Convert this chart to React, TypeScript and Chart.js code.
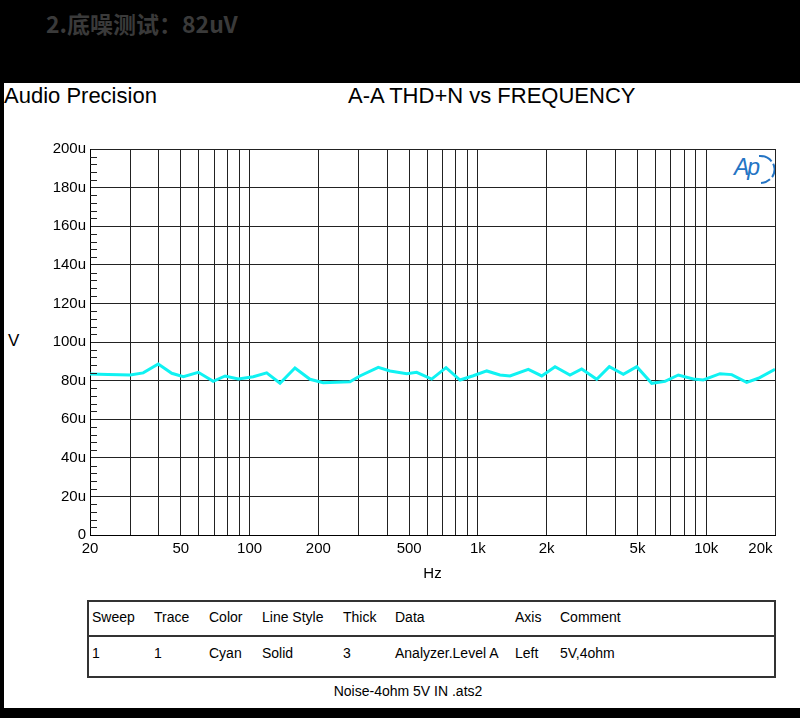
import React, { useEffect, useRef } from "react";
import { Chart, registerables } from "chart.js";

Chart.register(...registerables);

// ---- data ----
const frequenciesHz = [
  20, 24, 27, 30, 34.2, 39.8, 45.6, 51.3, 59.6, 69.3, 78.1, 89.2, 103.8, 118.8,
  135.9, 158, 183.9, 210, 240, 275, 304, 366, 412, 488, 539, 627, 725, 835, 954,
  1093, 1249, 1382, 1662, 1903, 2176, 2530, 2848, 3313, 3762, 4333, 4961, 5768,
  6596, 7545, 8777, 9705, 11486, 12926, 15034, 16908, 20000,
];
const levelUV = [
  83.4, 83.2, 83.0, 82.9, 84.0, 88.6, 83.8, 82.0, 84.3, 79.6, 82.4, 80.8, 82.0,
  84.0, 78.6, 86.5, 80.7, 78.9, 79.2, 79.4, 82.4, 86.9, 85.0, 83.6, 84.3, 80.8,
  86.7, 80.3, 82.5, 85.0, 82.9, 82.4, 85.8, 82.4, 87.2, 82.9, 86.0, 80.7, 87.2,
  83.3, 87.2, 78.6, 79.6, 82.9, 80.8, 80.3, 83.6, 83.1, 79.1, 81.2, 85.8,
];

const xGridValues = [
  20, 30, 40, 50, 60, 70, 80, 90, 100, 200, 300, 400, 500, 600, 700, 800, 900,
  1000, 2000, 3000, 4000, 5000, 6000, 7000, 8000, 9000, 10000, 20000,
];
const xLabelValues = [20, 50, 100, 200, 500, 1000, 2000, 5000, 10000, 20000];
const xLabelTexts = [
  "20", "50", "100", "200", "500", "1k", "2k", "5k", "10k",
  "20k\u00a0\u00a0\u00a0\u00a0\u00a0\u00a0\u00a0",
];

const yMin = 0;
const yMax = 200;
const yStep = 20;
const yMinorStep = 4;

const tableHeaders = ["Sweep", "Trace", "Color", "Line Style", "Thick", "Data", "Axis", "Comment"];
const tableRow = ["1", "1", "Cyan", "Solid", "3", "Analyzer.Level A", "Left", "5V,4ohm"];
const tableColX = [92, 154, 209, 262, 343, 395, 515, 560];

const FONT = "'Liberation Sans', Arial, Helvetica, sans-serif";

const minorTicksPlugin = {
  id: "minorTicks",
  afterDraw(chart: any) {
    const ys = chart.scales.y;
    const area = chart.chartArea;
    const ctx = chart.ctx;
    ctx.save();
    ctx.strokeStyle = "#222";
    ctx.lineWidth = 1;
    for (let v = yMin; v <= yMax; v += yMinorStep) {
      if (v % yStep === 0) continue;
      const py = Math.round(ys.getPixelForValue(v)) + 0.5;
      ctx.beginPath();
      ctx.moveTo(area.left, py);
      ctx.lineTo(area.left + 7, py);
      ctx.stroke();
    }
    ctx.restore();
  },
};

function ApChart() {
  const ref = useRef<HTMLCanvasElement | null>(null);
  useEffect(() => {
    if (!ref.current) return;
    const points = frequenciesHz.map((f, i) => ({ x: f, y: levelUV[i] }));
    const chart = new Chart(ref.current, {
      type: "line",
      data: {
        datasets: [
          {
            data: points,
            borderColor: "#10f2f2",
            borderWidth: 3,
            pointRadius: 0,
            tension: 0,
            fill: false,
          },
        ],
      },
      options: {
        animation: false,
        responsive: false,
        devicePixelRatio: 1,
        layout: { padding: { left: 0, right: 25, top: 149, bottom: 135 } },
        plugins: { legend: { display: false }, tooltip: { enabled: false }, title: { display: false } },
        scales: {
          x: {
            type: "logarithmic",
            min: 20,
            max: 20000,
            afterBuildTicks: (s: any) => {
              s.ticks = xGridValues.map((v) => ({ value: v }));
            },
            afterFit: (s: any) => {
              s.height = 48;
              s.paddingLeft = 0;
              s.paddingRight = 0;
            },
            ticks: {
              autoSkip: false,
              maxRotation: 0,
              minRotation: 0,
              padding: 5,
              color: "#000",
              font: { family: FONT, size: 15 },
              callback: (value: any) => {
                const idx = xLabelValues.indexOf(Number(value));
                return idx >= 0 ? xLabelTexts[idx] : "";
              },
            },
            grid: { color: "#222", lineWidth: 1, drawTicks: false },
            border: { display: true, color: "#000", width: 1 },
            title: {
              display: true,
              text: "Hz",
              color: "#000",
              font: { family: FONT, size: 15 },
              padding: 0,
            },
          },
          y: {
            min: yMin,
            max: yMax,
            afterFit: (s: any) => {
              s.width = 90;
              s.paddingTop = 0;
              s.paddingBottom = 0;
            },
            ticks: {
              stepSize: yStep,
              padding: 4,
              color: "#000",
              font: { family: FONT, size: 15 },
              callback: (v: any) => (Number(v) === 0 ? "0" : v + "u"),
            },
            grid: { color: "#222", lineWidth: 1, drawTicks: false },
            border: { display: true, color: "#000", width: 1 },
          },
        },
      },
      plugins: [minorTicksPlugin],
    } as any);
    return () => chart.destroy();
  }, []);
  return (
    <canvas
      ref={ref}
      width={800}
      height={718}
      style={{ position: "absolute", left: 0, top: 0, width: 800, height: 718 }}
    />
  );
}

export default function App() {
  const abs = (left: number, top: number, extra: any = {}) => ({
    position: "absolute" as const,
    left,
    top,
    whiteSpace: "nowrap" as const,
    ...extra,
  });
  return (
    <div
      style={{
        position: "fixed",
        left: 0,
        top: 0,
        width: 800,
        height: 718,
        background: "#000",
        overflow: "hidden",
        fontFamily: FONT,
      }}
    >
      <div
        style={abs(46, 10, {
          fontFamily: "'Noto Sans CJK SC', sans-serif",
          fontWeight: 700,
          fontSize: 23,
          lineHeight: "27px",
          color: "#3a3a3a",
        })}
      >
        2.底噪测试：82uV
      </div>
      <div style={{ position: "absolute", left: 4, top: 83, width: 796, height: 625, background: "#fff" }} />
      <div style={abs(4, 83, { fontSize: 22, lineHeight: "26px", color: "#000" })}>Audio Precision</div>
      <div style={abs(348, 83, { fontSize: 22, lineHeight: "26px", color: "#000" })}>A-A THD+N vs FREQUENCY</div>
      <div style={abs(8, 331, { fontSize: 17, lineHeight: "20px", color: "#000" })}>V</div>

      <div style={abs(733, 152, { width: 42, height: 34 })}>
        <span
          style={{
            position: "absolute",
            left: 1,
            top: 2,
            fontStyle: "italic",
            fontSize: 23,
            lineHeight: "26px",
            color: "#2474c4",
            letterSpacing: -2,
          }}
        >
          Ap
        </span>
        <svg width={42} height={34} style={{ position: "absolute", left: 0, top: 0 }}>
          <path d="M 26 4 A 14 13 0 0 1 28 31" fill="none" stroke="#2474c4" strokeWidth={2} strokeDasharray="14 3" />
        </svg>
      </div>

      <div
        style={{
          position: "absolute",
          left: 87,
          top: 600,
          width: 689,
          height: 78,
          border: "2px solid #333",
          boxSizing: "border-box",
        }}
      />
      <div style={{ position: "absolute", left: 87, top: 635, width: 689, height: 2, background: "#333" }} />
      {tableHeaders.map((h, i) => (
        <div key={"h" + i} style={abs(tableColX[i], 609, { fontSize: 14, lineHeight: "16px", color: "#000" })}>
          {h}
        </div>
      ))}
      {tableRow.map((c, i) => (
        <div key={"r" + i} style={abs(tableColX[i], 645, { fontSize: 14, lineHeight: "16px", color: "#000" })}>
          {c}
        </div>
      ))}
      <div style={abs(258, 683, { width: 300, textAlign: "center", fontSize: 14, lineHeight: "16px", color: "#000" })}>
        Noise-4ohm 5V IN .ats2
      </div>

      <ApChart />
    </div>
  );
}
